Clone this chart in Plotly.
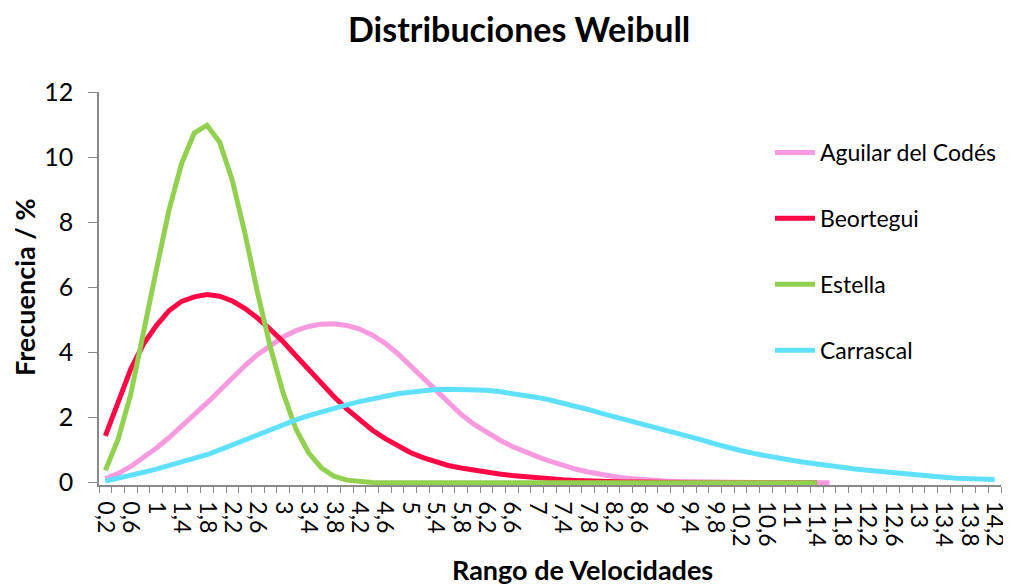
import plotly.graph_objects as go

# velocity classes (m/s)
velocidades = [
    0.2, 0.4, 0.6, 0.8, 1.0, 1.2, 1.4, 1.6, 1.8, 2.0, 2.2, 2.4, 2.6, 2.8, 3.0, 3.2, 3.4, 3.6,
    3.8, 4.0, 4.2, 4.4, 4.6, 4.8, 5.0, 5.2, 5.4, 5.6, 5.8, 6.0, 6.2, 6.4, 6.6, 6.8, 7.0, 7.2,
    7.4, 7.6, 7.8, 8.0, 8.2, 8.4, 8.6, 8.8, 9.0, 9.2, 9.4, 9.6, 9.8, 10.0, 10.2, 10.4, 10.6,
    10.8, 11.0, 11.2, 11.4, 11.6, 11.8, 12.0, 12.2, 12.4, 12.6, 12.8, 13.0, 13.2, 13.4, 13.6,
    13.8, 14.0, 14.2,
]

aguilar = [
    0.12, 0.28, 0.50, 0.77, 1.06, 1.38, 1.72, 2.07, 2.45, 2.83, 3.22, 3.60, 3.94, 4.23, 4.48,
    4.67, 4.80, 4.87, 4.88, 4.83, 4.72, 4.54, 4.29, 3.97, 3.60, 3.22, 2.83, 2.45, 2.10, 1.80,
    1.54, 1.32, 1.12, 0.95, 0.80, 0.66, 0.53, 0.42, 0.33, 0.25, 0.19, 0.14, 0.10, 0.07, 0.05,
    0.04, 0.03, 0.02, 0.02, 0.01, 0.01, 0.01, 0.01, 0.0, 0.0, 0.0, 0.0, 0.0,
]

beortegui = [
    1.44, 2.51, 3.49, 4.26, 4.82, 5.28, 5.57, 5.71, 5.78, 5.73, 5.58, 5.35, 5.05, 4.70, 4.33,
    3.90, 3.47, 3.04, 2.64, 2.27, 1.93, 1.62, 1.36, 1.13, 0.93, 0.77, 0.63, 0.53, 0.45, 0.38,
    0.32, 0.27, 0.22, 0.18, 0.14, 0.11, 0.09, 0.07, 0.05, 0.04, 0.03, 0.02, 0.02, 0.01, 0.01,
    0.01, 0.0, 0.0, 0.0, 0.0, 0.0, 0.0, 0.0, 0.0, 0.0, 0.0, 0.0,
]

estella = [
    0.38, 1.33, 2.72, 4.67, 6.51, 8.36, 9.80, 10.74, 10.98, 10.46, 9.28, 7.64, 5.80, 4.15, 2.75,
    1.65, 0.92, 0.46, 0.20, 0.08, 0.03, 0.01, 0.0, 0.0, 0.0, 0.0, 0.0, 0.0, 0.0, 0.0,
    0.0, 0.0, 0.0, 0.0, 0.0, 0.0, 0.0, 0.0, 0.0, 0.0, 0.0, 0.0, 0.0, 0.0, 0.0,
    0.0, 0.0, 0.0, 0.0, 0.0, 0.0, 0.0, 0.0, 0.0, 0.0, 0.0, 0.0,
]

carrascal = [
    0.05, 0.13, 0.22, 0.32, 0.42, 0.52, 0.63, 0.74, 0.86, 1.01, 1.17, 1.33, 1.49, 1.64, 1.79,
    1.93, 2.06, 2.18, 2.29, 2.39, 2.49, 2.58, 2.66, 2.73, 2.78, 2.83, 2.86, 2.87, 2.87, 2.86,
    2.84, 2.80, 2.75, 2.69, 2.62, 2.54, 2.45, 2.35, 2.25, 2.14, 2.04, 1.94, 1.84, 1.73, 1.64,
    1.54, 1.43, 1.31, 1.19, 1.08, 0.99, 0.90, 0.82, 0.75, 0.69, 0.63, 0.57, 0.51, 0.46, 0.42,
    0.38, 0.34, 0.30, 0.26, 0.23, 0.20, 0.17, 0.14, 0.12, 0.11, 0.10,
]

series = [
    ("Aguilar del Codés", aguilar, "#F79ADF"),
    ("Beortegui", beortegui, "#FF0845"),
    ("Estella", estella, "#92D050"),
    ("Carrascal", carrascal, "#5FE1FD"),
]

tick_vals = velocidades[::2]
tick_text = [f"{v:g}".replace(".", ",") for v in tick_vals]

FONT = "Lato, Carlito, Calibri, sans-serif"
AXIS = "#8a8a8a"
W, H = 1011, 586
OFF = 8  # the page body adds an 8px margin, so work in screen pixels minus OFF
L, R, T, B = 99 - OFF, 10 + OFF, 92 - OFF, 101 + OFF
pw, ph = W - L - R, H - T - B


def px_x(sx):
    return (sx - OFF - L) / pw


def px_y(sy):
    return (H - B - (sy - OFF)) / ph


fig = go.Figure()
for name, vals, color in series:
    fig.add_trace(go.Scatter(
        x=velocidades[:len(vals)], y=vals, name=name, mode="lines",
        line=dict(color=color, width=5), legendgroup=name,
    ))

fig.update_layout(
    width=W, height=H,
    margin=dict(l=L, r=R, t=T, b=B, autoexpand=False),
    paper_bgcolor="white", plot_bgcolor="white",
    font=dict(family=FONT, color="black"),
    legend=dict(
        x=px_x(770), xanchor="left", y=px_y(131), yanchor="top",
        font=dict(size=23), tracegroupgap=33, itemwidth=40,
        bgcolor="rgba(0,0,0,0)",
    ),
    annotations=[
        dict(text="<b>Distribuciones Weibull</b>",
             x=px_x(519), xref="paper", xanchor="center",
             y=px_y(28), yref="paper", yanchor="middle",
             showarrow=False, font=dict(size=34)),
        dict(text="<b>Frecuencia / %</b>", textangle=-90,
             x=px_x(24), xref="paper", xanchor="center",
             y=px_y(287), yref="paper", yanchor="middle",
             showarrow=False, font=dict(size=27)),
        dict(text="<b>Rango de Velocidades</b>",
             x=px_x(582), xref="paper", xanchor="center",
             y=px_y(569), yref="paper", yanchor="middle",
             showarrow=False, font=dict(size=27)),
    ],
)

fig.update_xaxes(
    range=[0.1, 14.3], showgrid=False, zeroline=False, automargin=False,
    showline=True, linecolor=AXIS, linewidth=1.5,
    tickvals=tick_vals, ticktext=tick_text, tickangle=90, ticks="",
    tickfont=dict(size=23), ticklabelstandoff=10,
    minor=dict(ticks="outside", tick0=0.1, dtick=0.2, ticklen=6, tickcolor=AXIS, showgrid=False),
    layer="below traces",
)
fig.update_yaxes(
    range=[-0.07, 12], showgrid=False, zeroline=False, automargin=False,
    showline=True, linecolor=AXIS, linewidth=1.5,
    tickvals=[0, 2, 4, 6, 8, 10, 12], ticks="outside", ticklen=9, tickcolor=AXIS,
    tickfont=dict(size=25), ticklabelstandoff=10,
    layer="below traces",
)

fig.write_html("out.html")
